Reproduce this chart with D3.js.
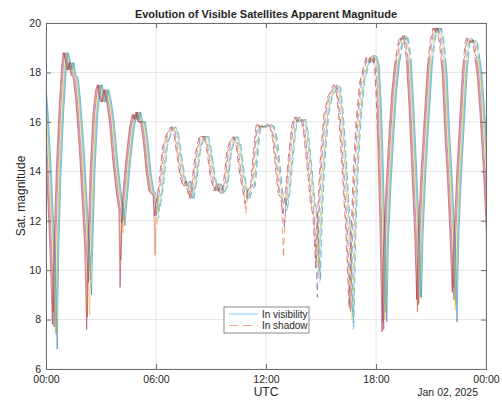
<!DOCTYPE html>
<html>
<head>
<meta charset="utf-8">
<script src="https://cdn.jsdelivr.net/npm/d3@7"></script>
<style>
  body { margin: 0; background: #fff; }
  text { font-family: 'Liberation Sans', Arial, sans-serif; fill: #262626; }
</style>
</head>
<body>
<script>
// common magnitude profile (hours UTC, magnitude)
const baseHours = [-0.4, -0.2, 0.0, 0.2, 0.35, 0.58, 0.7, 0.85, 1.0, 1.08, 1.2, 1.3, 1.4, 1.5, 1.62, 1.75, 1.95, 2.1, 2.25,
  2.45, 2.55, 2.7, 2.85, 2.95, 3.05, 3.15, 3.3, 3.45, 3.6, 3.8, 4.0, 4.12,
  4.3, 4.5, 4.7, 4.85, 4.95, 5.05, 5.15, 5.3, 5.45, 5.6, 5.75, 5.9, 5.98,
  6.12, 6.3, 6.5, 6.75, 6.95, 7.1, 7.25, 7.45, 7.6, 7.75, 7.95, 8.1, 8.3, 8.5, 8.75, 8.9, 9.1, 9.3, 9.45, 9.6, 9.8,
  10.0, 10.2, 10.35, 10.5, 10.7, 10.9,
  11.15, 11.3, 11.45, 11.6, 11.75, 12.0, 12.15, 12.35, 12.5, 12.65, 12.8, 12.95,
  13.2, 13.35, 13.55, 13.7, 13.85, 14.05, 14.2, 14.4, 14.55, 14.7,
  14.95, 15.1, 15.3, 15.5, 15.65, 15.8, 15.95, 16.1, 16.3, 16.5,
  16.78, 16.9, 17.05, 17.25, 17.45, 17.6, 17.75, 17.9, 18.05, 18.15, 18.25, 18.35,
  18.55, 18.7, 18.85, 19.0, 19.15, 19.3, 19.4, 19.5, 19.6, 19.7, 19.8, 19.95, 20.1, 20.25,
  20.45, 20.6, 20.8, 20.95, 21.1, 21.25, 21.35, 21.45, 21.6, 21.75, 21.9, 22.05, 22.2,
  22.4, 22.55, 22.7, 22.85, 23.0, 23.1, 23.25, 23.4, 23.5, 23.65, 23.8, 24.0, 24.2];
const baseMag = [18.7, 18.2, 16.3, 13.5, 11.0, 11.0, 14.0, 16.5, 18.3, 18.8, 18.5, 18.1, 18.4, 17.9, 17.8, 17.0, 15.0, 13.0, 11.0,
  11.5, 14.0, 16.3, 17.3, 17.5, 17.0, 16.8, 17.3, 16.8, 16.0, 14.3, 13.0, 12.4,
  12.8, 14.5, 15.8, 16.3, 16.1, 16.4, 16.0, 16.0, 15.2, 14.0, 13.2, 13.1, 13.0,
  12.6, 13.5, 15.0, 15.6, 15.8, 15.6, 14.8, 13.8, 13.4, 13.6, 12.9, 13.6, 14.8, 15.4, 15.4, 14.9, 13.8, 13.2, 13.5, 13.1, 13.4,
  14.8, 15.3, 15.4, 15.1, 13.9, 13.1,
  13.3, 13.4, 14.8, 15.9, 15.8, 15.8, 15.9, 15.8, 15.3, 14.2, 13.1, 12.9,
  13.2, 14.5, 15.9, 16.2, 16.0, 16.1, 15.5, 14.0, 12.8, 12.2,
  12.3, 14.5, 16.3, 17.0, 17.2, 17.5, 17.4, 16.3, 14.0, 11.5,
  11.5, 14.0, 16.0, 17.6, 18.2, 18.6, 18.4, 18.7, 18.3, 17.0, 14.8, 12.0,
  11.0, 13.5, 15.5, 17.2, 18.3, 19.0, 19.4, 19.3, 19.5, 19.1, 18.5, 16.5, 14.0, 11.5,
  11.5, 14.0, 16.5, 18.3, 19.3, 19.8, 19.6, 19.8, 19.2, 18.0, 15.5, 13.5, 11.0,
  11.5, 14.0, 16.0, 18.0, 19.2, 19.4, 19.2, 19.3, 18.8, 18.0, 16.5, 14.0, 11.0];

// brightest points of each pass, one value per satellite
const dipHours = [0.49, 2.36, 4.18, 6.05, 11.0, 13.05, 14.85, 16.67, 18.47, 20.36, 22.3];
const dipMins = [
  [6.8, 8.3, 7.5, 7.7, 7.4, 8.5, 7.8],
  [9.0, 8.1, 8.2, 9.5, 9.6, 10.2, 7.6],
  [11.8, 10.4, 11.5, 11.9, 12.0, 12.2, 9.3],
  [12.4, 10.6, 11.8, 12.2, 12.3, 12.1, 12.2],
  [12.9, 12.3, 12.8, 12.9, 13.0, 12.8, 12.7],
  [12.5, 10.5, 12.7, 11.7, 12.6, 12.4, 12.3],
  [9.6, 10.3, 9.8, 8.9, 10.0, 9.5, 10.1],
  [7.7, 8.4, 8.0, 8.3, 8.1, 7.6, 8.5],
  [7.9, 7.9, 8.0, 7.6, 8.3, 8.4, 7.5],
  [8.9, 8.3, 8.7, 8.6, 8.9, 9.0, 8.8],
  [7.9, 9.3, 8.4, 8.8, 8.6, 8.9, 9.1]
];

const satColors = ['#0072BD', '#D95319', '#EDB120', '#7E2F8E', '#77AC30', '#4DBEEE', '#A2142F'];
const satOffsets = [0.12, -0.10, 0.02, -0.05, 0.06, 0.09, -0.14];

const shadowStart = 6.0;
const shadowEnd = 18.05;
const peakShadowMag = 18.5;

const yTicks = [6, 8, 10, 12, 14, 16, 18, 20];
const xTickHours = [0, 6, 12, 18, 24];
const xTickLabels = ['00:00', '06:00', '12:00', '18:00', '00:00'];

const margin = {top: 23, right: 16, bottom: 32, left: 46};
const width = 502 - margin.left - margin.right;
const height = 401 - margin.top - margin.bottom;

const svg = d3.select('body').append('svg')
  .attr('width', 502)
  .attr('height', 401);

const g = svg.append('g')
  .attr('transform', `translate(${margin.left},${margin.top})`);

const x = d3.scaleLinear().domain([0, 24]).range([0, width]);
const y = d3.scaleLinear().domain([6, 20]).range([height, 0]);

// grid
g.append('g').selectAll('line').data(yTicks).join('line')
  .attr('x1', 0).attr('x2', width)
  .attr('y1', (d) => y(d)).attr('y2', (d) => y(d))
  .attr('stroke', '#e6e6e6');
g.append('g').selectAll('line').data(xTickHours).join('line')
  .attr('y1', 0).attr('y2', height)
  .attr('x1', (d) => x(d)).attr('x2', (d) => x(d))
  .attr('stroke', '#e6e6e6');

// clip regions: visible vs shadow
const defs = svg.append('defs');
const visClip = defs.append('clipPath').attr('id', 'vis');
visClip.append('rect').attr('x', x(0)).attr('y', 0)
  .attr('width', x(shadowStart) - x(0)).attr('height', height);
visClip.append('rect').attr('x', x(shadowEnd)).attr('y', y(peakShadowMag))
  .attr('width', x(24) - x(shadowEnd)).attr('height', height - y(peakShadowMag));
const shClip = defs.append('clipPath').attr('id', 'shadow');
shClip.append('rect').attr('x', x(shadowStart)).attr('y', 0)
  .attr('width', x(shadowEnd) - x(shadowStart)).attr('height', height);
shClip.append('rect').attr('x', x(shadowEnd)).attr('y', 0)
  .attr('width', x(24) - x(shadowEnd)).attr('height', y(peakShadowMag));

const series = satColors.map((c, i) => {
  const pts = baseHours.map((h, k) => ({h: h, m: baseMag[k]}))
    .concat(dipHours.map((h, k) => ({h: h, m: dipMins[k][i]})))
    .sort((a, b) => a.h - b.h)
    .map((p) => ({h: p.h + satOffsets[i], m: p.m}));
  return {color: c, pts: pts};
});

const line = d3.line()
  .x((d) => x(d.h))
  .y((d) => y(d.m));

const visG = g.append('g').attr('clip-path', 'url(#vis)');
const shG = g.append('g').attr('clip-path', 'url(#shadow)');

series.forEach((s) => {
  visG.append('path')
    .attr('d', line(s.pts))
    .attr('fill', 'none')
    .attr('stroke', s.color)
    .attr('stroke-opacity', 0.5)
    .attr('stroke-width', 1);
  shG.append('path')
    .attr('d', line(s.pts))
    .attr('fill', 'none')
    .attr('stroke', s.color)
    .attr('stroke-opacity', 0.5)
    .attr('stroke-width', 1)
    .attr('stroke-dasharray', '7,4');
});

// axes (ticks inside, MATLAB style)
const xAxis = g.append('g').attr('transform', `translate(0,${height})`)
  .call(d3.axisBottom(x).tickValues(xTickHours).tickSize(-5).tickPadding(7)
    .tickFormat((d, i) => xTickLabels[i]));
const xTop = g.append('g')
  .call(d3.axisTop(x).tickValues(xTickHours).tickSize(-5).tickFormat(''));
const yAxis = g.append('g')
  .call(d3.axisLeft(y).tickValues(yTicks).tickSize(-5).tickPadding(5));
const yRight = g.append('g').attr('transform', `translate(${width},0)`)
  .call(d3.axisRight(y).tickValues(yTicks).tickSize(-5).tickFormat(''));

[xAxis, xTop, yAxis, yRight].forEach((a) => {
  a.selectAll('path').attr('stroke', '#6e6e6e');
  a.selectAll('line').attr('stroke', '#6e6e6e');
  a.selectAll('text').attr('font-size', 10.5).attr('fill', '#262626')
    .attr('font-family', "'Liberation Sans', Arial, sans-serif");
});

// labels
svg.append('text')
  .attr('x', margin.left + width / 2).attr('y', 18)
  .attr('text-anchor', 'middle')
  .attr('font-size', 11).attr('font-weight', 'bold')
  .text('Evolution of Visible Satellites Apparent Magnitude');

svg.append('text')
  .attr('transform', `translate(25,${margin.top + height / 2}) rotate(-90)`)
  .attr('text-anchor', 'middle')
  .attr('font-size', 12)
  .text('Sat. magnitude');

svg.append('text')
  .attr('x', margin.left + width / 2).attr('y', 396)
  .attr('text-anchor', 'middle')
  .attr('font-size', 12)
  .text('UTC');

svg.append('text')
  .attr('x', 478).attr('y', 396)
  .attr('text-anchor', 'end')
  .attr('font-size', 10.5)
  .text('Jan 02, 2025');

// legend
const lg = svg.append('g').attr('transform', 'translate(224,307)');
lg.append('rect').attr('width', 85).attr('height', 26)
  .attr('fill', '#fff').attr('stroke', '#6e6e6e').attr('stroke-width', 0.8);
lg.append('line').attr('x1', 5).attr('x2', 34).attr('y1', 7).attr('y2', 7)
  .attr('stroke', satColors[5]).attr('stroke-opacity', 0.6).attr('stroke-width', 1.2);
lg.append('line').attr('x1', 5).attr('x2', 34).attr('y1', 18.5).attr('y2', 18.5)
  .attr('stroke', satColors[1]).attr('stroke-opacity', 0.5).attr('stroke-width', 1.2)
  .attr('stroke-dasharray', '9,5');
lg.append('text').attr('x', 38).attr('y', 10.5).attr('font-size', 10).text('In visibility');
lg.append('text').attr('x', 38).attr('y', 22).attr('font-size', 10).text('In shadow');
</script>
</body>
</html>
